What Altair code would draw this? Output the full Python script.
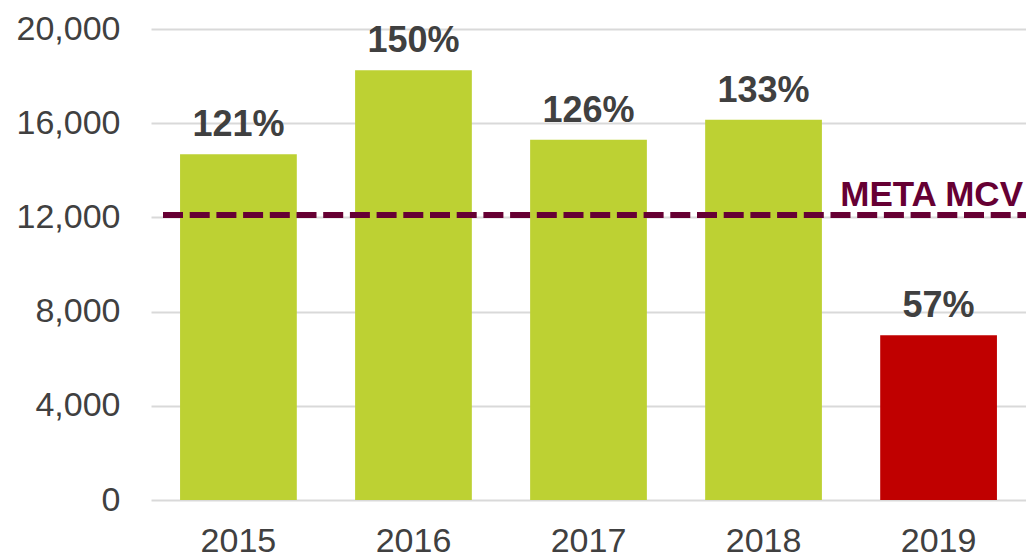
import altair as alt
import pandas as pd

years = ["2015", "2016", "2017", "2018", "2019"]
values = [14680, 18250, 15300, 16150, 7000]
pct_labels = ["121%", "150%", "126%", "133%", "57%"]
bar_colors = ["#BDD133", "#BDD133", "#BDD133", "#BDD133", "#C00000"]
meta_value = 12100
meta_label = "META MCV"
y_ticks = [0, 4000, 8000, 12000, 16000, 20000]

df = pd.DataFrame({"year": years, "value": values, "label": pct_labels, "color": bar_colors})
meta_df = pd.DataFrame({"meta": [meta_value], "text": [meta_label]})

W, H = 875, 471
FONT = "Liberation Sans"

x_enc = alt.X("year:N", sort=years, title=None,
              scale=alt.Scale(paddingInner=0.333, paddingOuter=0.166),
              axis=alt.Axis(labelAngle=0, labelFontSize=34, labelColor="#404040",
                            labelFont=FONT, labelPadding=24, ticks=False, domain=False,
                            grid=False))
y_enc = alt.Y("value:Q", title=None,
              scale=alt.Scale(domain=[0, 20000], nice=False),
              axis=alt.Axis(values=y_ticks, format=",d", labelFontSize=34,
                            labelColor="#404040", labelFont=FONT, labelPadding=31,
                            ticks=False, domain=False, grid=True,
                            gridColor="#D9D9D9", gridWidth=2))

bars = alt.Chart(df).mark_bar().encode(
    x=x_enc,
    y=y_enc,
    color=alt.Color("color:N", scale=None),
)

labels = alt.Chart(df).mark_text(
    font=FONT, fontSize=36, fontWeight="bold", color="#404040",
    baseline="alphabetic", align="center", dy=-18,
).encode(
    x=alt.X("year:N", sort=years),
    y=alt.Y("value:Q"),
    text="label:N",
)

meta_rule = alt.Chart(meta_df).mark_rule(
    color="#660033", strokeWidth=6, strokeDash=[20, 6.7],
).encode(
    y=alt.Y("meta:Q"),
    x=alt.value(12),
    x2=alt.value(W),
)

meta_text = alt.Chart(meta_df).mark_text(
    font=FONT, fontSize=35, fontWeight="bold", color="#660033",
    align="right", baseline="alphabetic", dy=-9,
).encode(
    y=alt.Y("meta:Q"),
    x=alt.value(W - 3),
    text="text:N",
)

chart = alt.layer(bars, labels, meta_rule, meta_text).properties(
    width=W, height=H,
    background="white",
    autosize=alt.AutoSizeParams(type="none"),
    padding={"left": 151, "top": 29, "right": 0, "bottom": 56},
).configure_view(stroke=None, strokeWidth=0)

chart.save("out.html", embed_options={"renderer": "svg", "actions": False})
